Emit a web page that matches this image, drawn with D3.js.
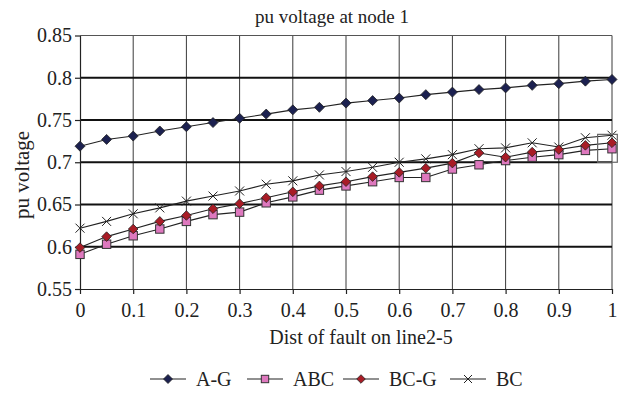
<!DOCTYPE html>
<html><head><meta charset="utf-8">
<script src="https://cdn.jsdelivr.net/npm/d3@7"></script>
<style>body{margin:0;background:#fff}text{font-family:"Liberation Serif","Times New Roman",serif;fill:#222}</style>
</head><body><svg id="c" width="628" height="394"></svg>
<script>
const dist = [0,0.05,0.1,0.15,0.2,0.25,0.3,0.35,0.4,0.45,0.5,0.55,0.6,0.65,0.7,0.75,0.8,0.85,0.9,0.95,1];
const AG  = [0.719,0.727,0.731,0.737,0.742,0.747,0.752,0.757,0.762,0.765,0.770,0.773,0.776,0.780,0.783,0.786,0.788,0.791,0.793,0.796,0.798];
const ABC = [0.591,0.603,0.613,0.621,0.630,0.638,0.641,0.652,0.659,0.667,0.672,0.677,0.682,0.682,0.692,0.697,0.702,0.706,0.709,0.714,0.716];
const BCG = [0.599,0.612,0.621,0.630,0.637,0.645,0.651,0.658,0.665,0.672,0.677,0.683,0.688,0.693,0.699,0.711,0.706,0.712,0.715,0.720,0.723];
const BC  = [0.622,0.630,0.639,0.646,0.654,0.660,0.666,0.674,0.678,0.685,0.689,0.694,0.700,0.704,0.709,0.716,0.717,0.723,0.718,0.729,0.732];
const seriesNames = ["A-G","ABC","BC-G","BC"];
const xTicks = [0,0.1,0.2,0.3,0.4,0.5,0.6,0.7,0.8,0.9,1];
const yTicks = [0.55,0.6,0.65,0.7,0.75,0.8,0.85];
const highlightBox = {x0:0.973, x1:1.01, y0:0.7, y1:0.733};

const svg = d3.select("#c");
const x = d3.scaleLinear().domain([0,1]).range([80,612]);
const y = d3.scaleLinear().domain([0.55,0.85]).range([289,35.5]);

// grid
svg.append("g").selectAll("line").data(xTicks.slice(1)).join("line")
  .attr("x1",d=>x(d)).attr("x2",d=>x(d)).attr("y1",y(0.85)).attr("y2",y(0.55))
  .attr("stroke","#3a3a3a").attr("stroke-width",1);
svg.append("g").selectAll("line").data(yTicks.slice(1,-1)).join("line")
  .attr("x1",x(0)).attr("x2",x(1)).attr("y1",d=>y(d)).attr("y2",d=>y(d))
  .attr("stroke","#111").attr("stroke-width",2);
svg.append("line").attr("x1",x(0)).attr("x2",x(1)).attr("y1",y(0.85)).attr("y2",y(0.85)).attr("stroke","#555").attr("stroke-width",1);

// axes
const xa = svg.append("g").attr("transform",`translate(0,${y(0.55)})`)
  .call(d3.axisBottom(x).tickValues(xTicks).tickFormat(d=>d===0||d===1?String(d):d3.format(".1f")(d)).tickSize(5).tickPadding(9).tickSizeOuter(0));
const ya = svg.append("g").attr("transform",`translate(${x(0)},0)`)
  .call(d3.axisLeft(y).tickValues(yTicks).tickFormat(d=>String(+d.toFixed(2))).tickSize(5).tickPadding(3).tickSizeOuter(0));
[xa,ya].forEach(a=>{a.select(".domain").attr("stroke","#222").attr("stroke-width",1.2);
  a.selectAll(".tick line").attr("stroke","#222").attr("stroke-width",1.2);
  a.selectAll("text").attr("font-size",20).attr("font-family","Liberation Serif").attr("fill","#222");});

// titles
svg.append("text").attr("x",332).attr("y",23).attr("text-anchor","middle").attr("font-size",19).text("pu voltage at node 1");
svg.append("text").attr("x",361).attr("y",344).attr("text-anchor","middle").attr("font-size",20).text("Dist of fault on line2-5");
svg.append("text").attr("transform",`translate(29,${y(0.685)}) rotate(-90)`).attr("text-anchor","middle").attr("font-size",21).text("pu voltage");

const styles = [
  {vals:AG, shape:"diamond", fill:"#1c2150", size:5},
  {vals:ABC, shape:"square", fill:"#de78be", size:4.2},
  {vals:BCG, shape:"diamond", fill:"#a81c26", size:4.8},
  {vals:BC, shape:"x", fill:"none", size:4.5}
];
function marker(g, shape, cx, cy, s, fill){
  if(shape==="diamond") g.append("path").attr("d",`M${cx},${cy-s}L${cx+s},${cy}L${cx},${cy+s}L${cx-s},${cy}Z`).attr("fill",fill).attr("stroke","#222").attr("stroke-width",0.8);
  else if(shape==="square") g.append("rect").attr("x",cx-s).attr("y",cy-s).attr("width",2*s).attr("height",2*s).attr("fill",fill).attr("stroke","#333").attr("stroke-width",1);
  else g.append("path").attr("d",`M${cx-s},${cy-s}L${cx+s},${cy+s}M${cx-s},${cy+s}L${cx+s},${cy-s}`).attr("stroke","#222").attr("stroke-width",1);
}
const line = d3.line().x((d,i)=>x(dist[i])).y(d=>y(d));
[3,1,2,0].forEach(k=>{
  const st = styles[k];
  const g = svg.append("g");
  g.append("path").attr("d",line(st.vals)).attr("fill","none").attr("stroke","#222").attr("stroke-width",1.1);
  st.vals.forEach((v,i)=>marker(g, st.shape, x(dist[i]), y(v), st.size, st.fill));
});

// highlight box
svg.append("rect").attr("x",x(highlightBox.x0)).attr("y",y(highlightBox.y1))
  .attr("width",x(highlightBox.x1)-x(highlightBox.x0)).attr("height",y(highlightBox.y0)-y(highlightBox.y1))
  .attr("fill","none").attr("stroke","#666").attr("stroke-width",1.2);

// legend
const legX = [150,247,343,450];
const lg = svg.append("g").attr("transform","translate(0,379)");
seriesNames.forEach((n,k)=>{
  const st = styles[k];
  lg.append("line").attr("x1",legX[k]).attr("x2",legX[k]+36).attr("y1",0).attr("y2",0).attr("stroke","#222").attr("stroke-width",1.1);
  marker(lg, st.shape, legX[k]+18, 0, st.size-0.5, st.fill);
  lg.append("text").attr("x",legX[k]+46).attr("y",7).attr("font-size",20).text(n);
});
</script></body></html>
